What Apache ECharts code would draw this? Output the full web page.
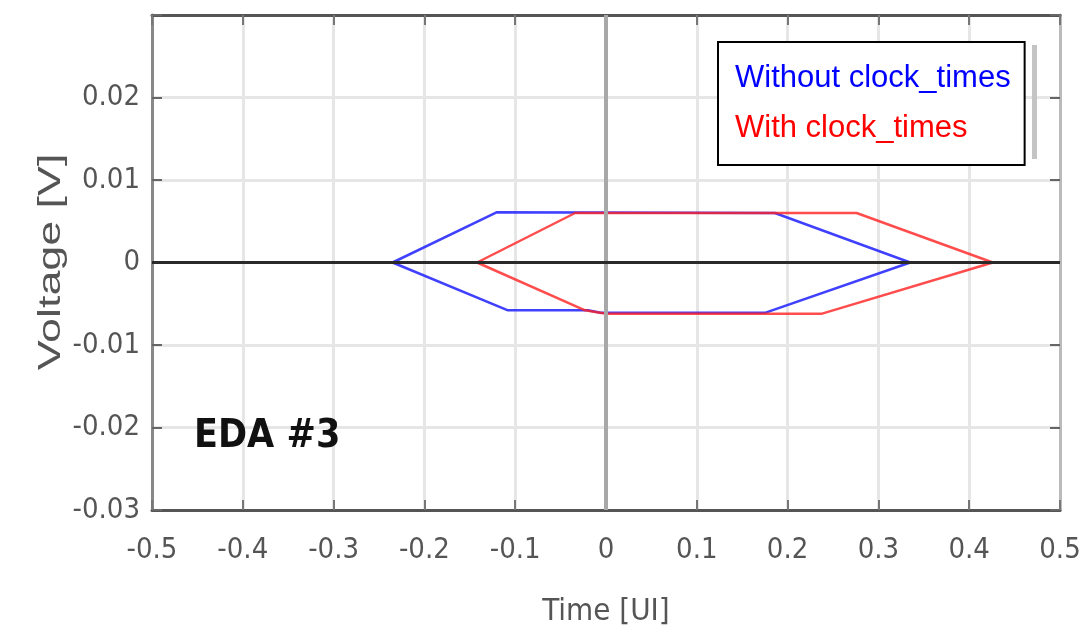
<!DOCTYPE html>
<html>
<head>
<meta charset="utf-8">
<script src="https://cdn.jsdelivr.net/npm/echarts@6/dist/echarts.min.js"></script>
<style>
  html, body { margin: 0; padding: 0; background: #fff; }
  #chart { width: 1086px; height: 638px; }
</style>
</head>
<body>
<div id="chart"></div>
<script>
// eye outlines, [time UI, voltage V], closed polygons
const withoutClock = [
  [-0.235, 0], [-0.12, 0.0061], [0.186, 0.0060], [0.335, 0],
  [0.175, -0.0061], [0.08, -0.0061], [-0.006, -0.0061],
  [-0.02, -0.0058], [-0.108, -0.0058], [-0.235, 0]
]
const withClock = [
  [-0.142, 0], [-0.034, 0.0060], [0.276, 0.0060], [0.426, 0],
  [0.238, -0.0062], [0.0, -0.0062], [-0.023, -0.0058], [-0.142, 0]
]

const xTickLabels = ['-0.5', '-0.4', '-0.3', '-0.2', '-0.1', '0', '0.1', '0.2', '0.3', '0.4', '0.5']
const yTickLabels = ['-0.03', '-0.02', '-0.01', '0', '0.01', '0.02', '']

const labelFont = '"DejaVu Sans Condensed", "Liberation Sans Narrow", sans-serif'
const gridColor = '#e6e6e6'

const chart = echarts.init(document.getElementById('chart'))

const xLabel = v => xTickLabels[Math.round((v + 0.5) * 10)]
const yLabel = v => yTickLabels[Math.round((v + 0.03) * 100)]

const option = {
  animation: false,
  backgroundColor: '#fff',
  grid: { left: 152, top: 15, right: 26, bottom: 128 },
  legend: {
    left: 718,
    top: 42,
    orient: 'vertical',
    icon: 'none',
    itemWidth: 0,
    itemGap: 14,
    padding: [18, 14, 19, 12],
    borderColor: '#000',
    borderWidth: 2,
    backgroundColor: '#fff',
    selectedMode: false,
    textStyle: { fontSize: 31, lineHeight: 36, fontFamily: '"Liberation Sans", Arial, sans-serif' },
    data: [
      { name: 'Without clock_times', textStyle: { color: '#0000ff' } },
      { name: 'With clock_times', textStyle: { color: '#ff0000' } }
    ]
  },
  xAxis: [
    {
      type: 'value', min: -0.5, max: 0.5, interval: 0.1,
      name: 'Time [UI]', nameLocation: 'middle', nameGap: 86,
      nameTextStyle: { color: '#555', fontSize: 31, fontFamily: labelFont },
      axisLine: { onZero: false, lineStyle: { color: '#555', width: 3 } },
      axisTick: { inside: true, length: 10, lineStyle: { color: '#777', width: 2 } },
      axisLabel: { formatter: xLabel, color: '#555', fontSize: 29, fontFamily: labelFont, margin: 26 },
      splitLine: { lineStyle: { color: gridColor, width: 3 } }
    },
    {
      type: 'value', position: 'top', min: -0.5, max: 0.5, interval: 0.1,
      axisLine: { onZero: false, lineStyle: { color: '#555', width: 3 } },
      axisTick: { inside: true, length: 10, lineStyle: { color: '#777', width: 2 } },
      axisLabel: { show: false },
      splitLine: { show: false }
    }
  ],
  yAxis: [
    {
      type: 'value', min: -0.03, max: 0.03, interval: 0.01,
      axisLine: { onZero: false, lineStyle: { color: '#888', width: 3 } },
      axisTick: { inside: true, length: 10, lineStyle: { color: '#666', width: 2 } },
      axisLabel: { formatter: yLabel, color: '#555', fontSize: 29, fontFamily: labelFont, margin: 12 },
      splitLine: { lineStyle: { color: gridColor, width: 3 } }
    },
    {
      type: 'value', position: 'right', min: -0.03, max: 0.03, interval: 0.01,
      axisLine: { onZero: false, lineStyle: { color: '#bbb', width: 3 } },
      axisTick: { inside: true, length: 10, lineStyle: { color: '#666', width: 2 } },
      axisLabel: { show: false },
      splitLine: { show: false }
    }
  ],
  series: [
    {
      name: 'zeroV', type: 'line', data: [], z: 1, silent: true,
      markLine: {
        silent: true, symbol: 'none', label: { show: false },
        lineStyle: { color: '#a8a8a8', width: 4, type: 'solid' },
        data: [{ xAxis: 0 }]
      }
    },
    {
      name: 'Without clock_times', type: 'line', data: withoutClock, z: 2,
      showSymbol: false, symbol: 'none',
      lineStyle: { color: '#1f1fff', width: 2.5, opacity: 0.85 },
      itemStyle: { color: '#0000ff' }
    },
    {
      name: 'With clock_times', type: 'line', data: withClock, z: 3,
      showSymbol: false, symbol: 'none',
      lineStyle: { color: '#ff2020', width: 2.5, opacity: 0.8 },
      itemStyle: { color: '#ff0000' }
    },
    {
      name: 'zeroH', type: 'line', data: [], z: 4, silent: true,
      markLine: {
        silent: true, symbol: 'none', label: { show: false },
        lineStyle: { color: '#2a2a2a', width: 3, type: 'solid' },
        data: [{ yAxis: 0 }]
      }
    }
  ],
  graphic: [
    {
      type: 'text', x: 51, y: 262, rotation: Math.PI / 2, scaleX: 1.4, z: 100,
      style: {
        text: 'Voltage [V]', fill: '#555', align: 'center', verticalAlign: 'middle',
        font: '32px "Liberation Sans", Arial, sans-serif'
      }
    },
    {
      type: 'text', x: 194, y: 437, z: 100,
      style: {
        text: 'EDA #3', fill: '#111', align: 'left', verticalAlign: 'middle',
        font: 'bold 39px ' + labelFont
      }
    },
    // grey shadow strip next to the legend box
    { type: 'rect', z: 100, shape: { x: 1032, y: 45, width: 5, height: 114 }, style: { fill: '#c4c4c4' } }
  ]
}

chart.setOption(option)
</script>
</body>
</html>
